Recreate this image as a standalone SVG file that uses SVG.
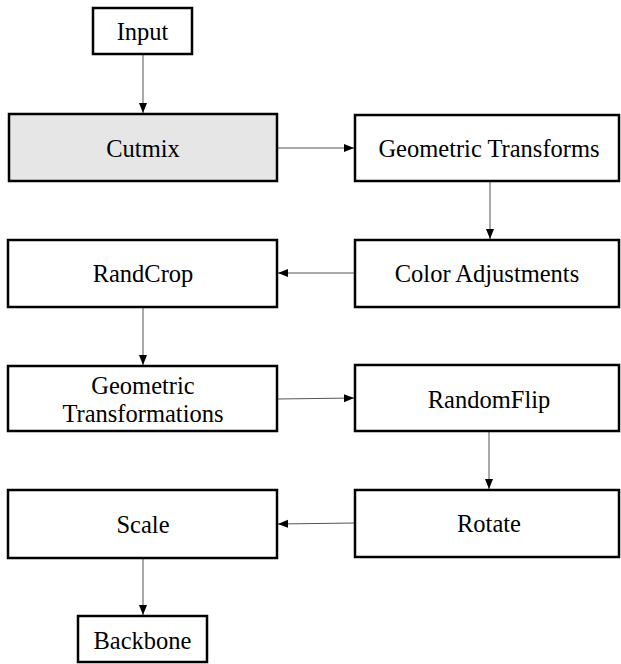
<svg xmlns="http://www.w3.org/2000/svg" width="621" height="664" viewBox="0 0 621 664">
<style>
.box{fill:#fff;stroke:#000;stroke-width:2.5}
.gray{fill:#e6e6e6}
.t{font-family:"Liberation Serif","Times New Roman",serif;font-size:24.5px;fill:#000;text-anchor:middle;dominant-baseline:central}
.c{stroke:#555;stroke-width:1;fill:none;marker-end:url(#ah)}
</style>
<defs>
<marker id="ah" viewBox="0 0 10 10" refX="10" refY="5" markerWidth="10" markerHeight="10" markerUnits="userSpaceOnUse" orient="auto">
<path d="M0,1 L10,5 L0,9 z" fill="#000"/>
</marker>
</defs>
<rect width="621" height="664" fill="#fff"/>
<g id="connectors">
<line class="c" x1="143" y1="54" x2="143" y2="113"/>
<line class="c" x1="277" y1="148" x2="354" y2="148"/>
<line class="c" x1="490" y1="181" x2="490" y2="239"/>
<line class="c" x1="355" y1="273" x2="278" y2="273"/>
<line class="c" x1="143" y1="307" x2="143" y2="365"/>
<line class="c" x1="277" y1="399" x2="354" y2="398"/>
<line class="c" x1="489" y1="431" x2="489" y2="489"/>
<line class="c" x1="355" y1="523" x2="278" y2="524"/>
<line class="c" x1="143" y1="558" x2="143" y2="615"/>
</g>
<g id="input"><rect class="box" x="93" y="8" width="99" height="46"/><text class="t" x="142.5" y="31">Input</text></g>
<g id="cutmix"><rect class="box gray" x="9" y="114" width="268" height="67"/><text class="t" x="143" y="148">Cutmix</text></g>
<g id="geometric-transforms"><rect class="box" x="355" y="115" width="264" height="66"/><text class="t" x="489" y="148">Geometric Transforms</text></g>
<g id="color-adjustments"><rect class="box" x="355" y="240" width="264" height="67"/><text class="t" x="487" y="273">Color Adjustments</text></g>
<g id="randcrop"><rect class="box" x="8" y="240" width="269" height="67"/><text class="t" x="143" y="273">RandCrop</text></g>
<g id="geometric-transformations"><rect class="box" x="8" y="366" width="269" height="65"/><text class="t" x="143" y="385">Geometric</text><text class="t" x="143" y="413">Transformations</text></g>
<g id="randomflip"><rect class="box" x="355" y="365" width="264" height="66"/><text class="t" x="489" y="399">RandomFlip</text></g>
<g id="rotate"><rect class="box" x="355" y="490" width="264" height="67"/><text class="t" x="489" y="523">Rotate</text></g>
<g id="scale"><rect class="box" x="8" y="490" width="269" height="68"/><text class="t" x="143" y="524">Scale</text></g>
<g id="backbone"><rect class="box" x="78" y="616" width="129" height="46"/><text class="t" x="142.5" y="640">Backbone</text></g>
</svg>
